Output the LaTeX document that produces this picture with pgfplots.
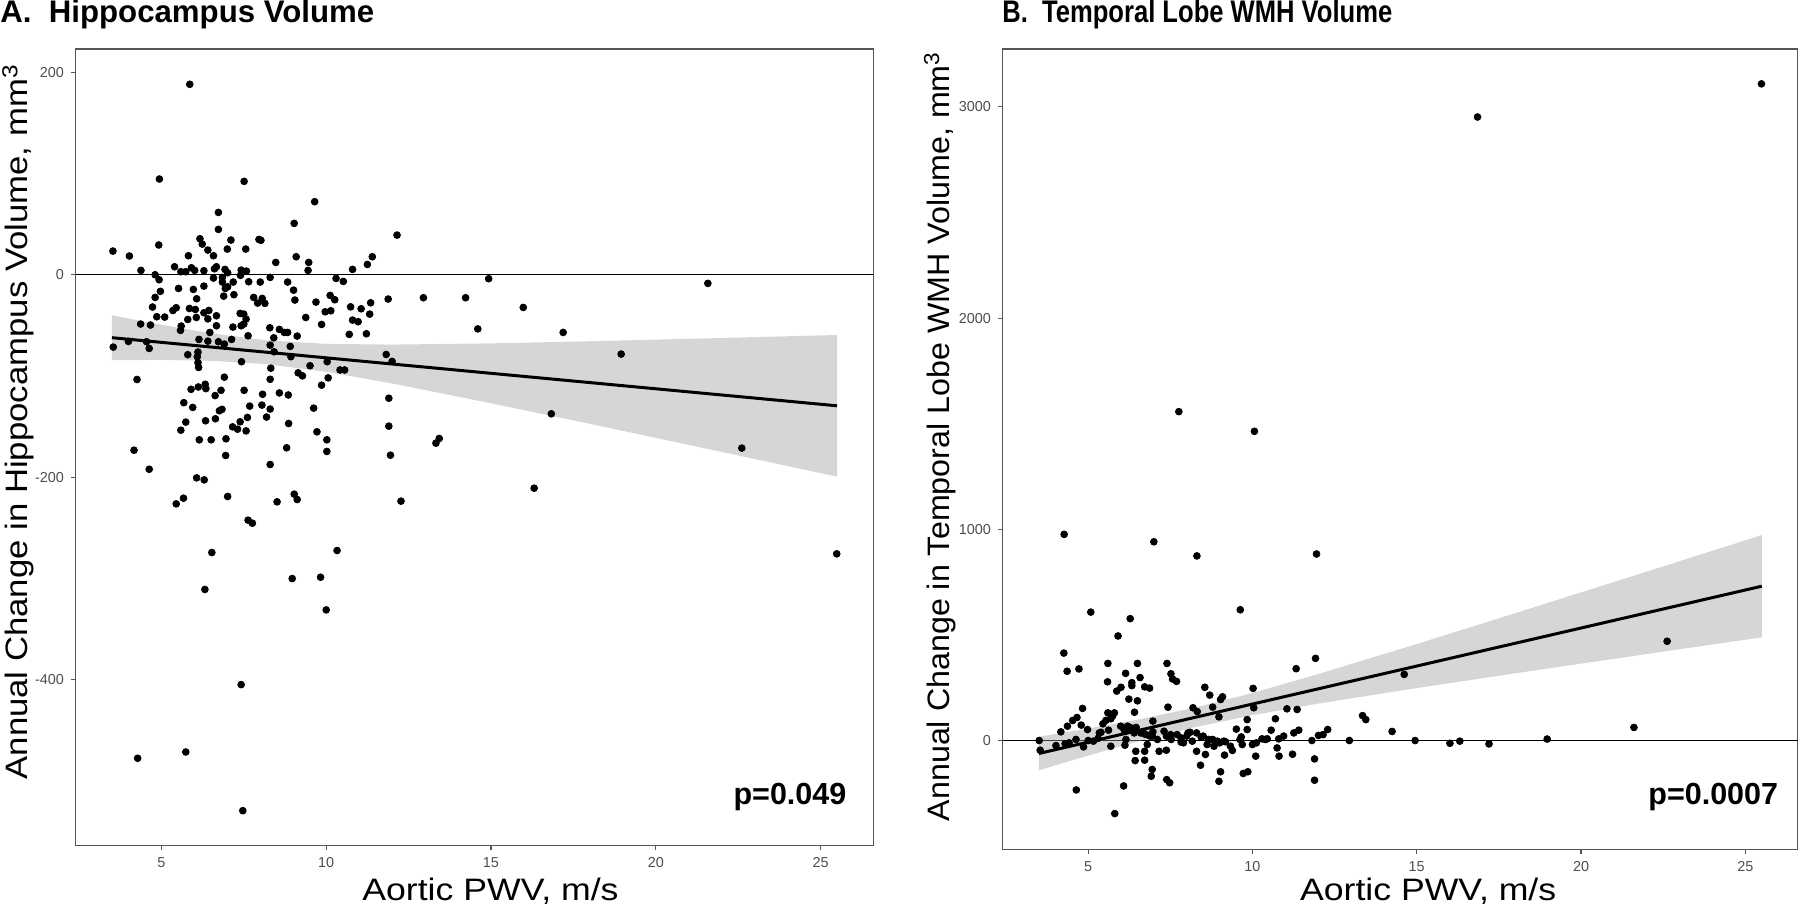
\documentclass[border=0pt]{standalone}
\usepackage{pgfplots}
\pgfplotsset{compat=1.18}
\usepackage{fontspec}
\setmainfont{Liberation Sans}
\definecolor{frame}{HTML}{555555}
\definecolor{ticktext}{HTML}{4D4D4D}
\pgfplotsset{
  panel/.style={
    scale only axis, anchor=south west,
    xmin=2.4, xmax=26.6, xtick={5,10,15,20,25},
    axis line style={draw=frame, line width=0.55pt},
    tick style={draw=frame, line width=0.55pt},
    tick align=outside, major tick length=2.4pt,
    xtick pos=bottom, ytick pos=left,
    ticklabel style={font=\fontsize{7.2}{8}\selectfont, text=ticktext},
    /pgf/number format/assume math mode=true,
    /pgf/number format/1000 sep={},
    scaled y ticks=false,
    xlabel={Aortic PWV, m/s},
    xlabel style={font=\fontsize{15.5}{18}\selectfont, anchor=base, xscale=1.15},
    ylabel style={font=\fontsize{15.5}{18}\selectfont, anchor=center},
    clip=true,
  },
  pts/.style={only marks, mark=*, mark size=1.7pt, black, mark options={draw=none, fill=black}},
  band/.style={draw=none, fill=black!40, fill opacity=0.4},
  fit/.style={black, line width=1.5pt},
  zero/.style={black, line width=0.6pt},
}
\begin{document}
\begin{tikzpicture}
\useasboundingbox (0,0) rectangle (900pt,452.5pt);
\node[anchor=base west, inner sep=0pt, font=\bfseries\fontsize{15.6}{18}\selectfont] at (0pt,441.2pt) {A.\ \ Hippocampus Volume};
\node[anchor=base west, inner sep=0pt, xscale=0.82, font=\bfseries\fontsize{15.6}{18}\selectfont] at (501pt,441.2pt) {B.\ \ Temporal Lobe WMH Volume};

\begin{axis}[panel, at={(37.85pt,29.65pt)}, width=398.8pt, height=398.35pt,
  ymin=-564.2, ymax=223.1, ytick={-400,-200,0,200},
  xlabel style={at={(axis description cs:0.52,0)}, yshift=-27.5pt},
  ylabel={Annual Change in Hippocampus Volume, mm\textsuperscript{3}},
  ylabel style={at={(axis description cs:-0.072,0.532)}, xscale=1.12}]
\addplot[zero] coordinates {(2.4,0) (26.6,0)};
\addplot[pts] table {
x y
5.86 188.2
4.94 94.6
7.51 92.3
9.65 72.2
6.73 61.6
9.03 50.8
6.73 44.8
12.15 39.2
6.17 35.6
6.24 30.3
7.11 34.3
6.41 24.4
6.58 18.8
7.00 25.4
7.96 34.9
8.02 34.0
7.56 25.4
3.53 23.4
4.03 18.5
4.92 29.4
5.82 18.8
8.47 12.2
9.09 17.8
9.47 12.2
11.40 17.8
11.25 10.2
10.80 5.3
9.45 4.3
4.38 4.3
5.40 7.9
5.59 3.0
5.74 3.0
5.91 6.9
6.01 4.3
6.29 4.0
6.61 5.9
6.67 7.9
6.93 5.3
7.01 2.0
7.42 4.6
7.58 3.6
7.40 -0.6
4.81 0
4.93 -4.9
6.58 -3.3
6.85 -2.6
6.85 -7.2
7.18 -7.2
7.65 -6.9
8.00 -7.2
8.30 -2.6
8.83 -7.2
10.30 -3.6
10.52 -6.6
14.93 -3.9
4.97 -16.4
5.52 -13.5
5.97 -14.5
6.29 -11.2
6.94 -13.5
7.01 -11.9
7.20 -19.7
6.89 -21.1
6.07 -23.7
4.81 -22.4
7.80 -22.4
8.06 -23.4
9.01 -15.2
10.12 -20.4
10.26 -24.7
9.05 -25.0
7.92 -28.0
8.14 -28.3
9.69 -27.0
11.88 -24.0
12.95 -22.7
14.23 -22.7
14.60 -53.5
4.73 -31.9
5.35 -35.3
5.45 -32.6
5.85 -33.3
6.03 -34.3
6.44 -35.3
5.80 -44.2
6.06 -42.2
6.29 -37.6
6.41 -43.6
4.86 -41.5
5.10 -41.8
6.67 -40.5
7.39 -38.2
7.50 -38.9
7.57 -43.8
7.50 -48.7
7.42 -50.4
6.67 -50.4
6.47 -57.0
7.17 -51.7
5.60 -50.7
5.58 -55.0
7.63 -60.3
8.29 -52.4
8.58 -54.0
8.73 -57.0
8.83 -57.0
8.41 -62.3
9.12 -60.6
9.38 -42.2
9.86 -49.1
9.97 -36.6
10.14 -35.6
10.74 -31.7
11.06 -33.6
11.35 -27.7
11.32 -38.9
10.80 -44.8
10.97 -46.4
10.70 -58.9
11.22 -58.3
4.37 -48.7
4.67 -49.7
3.54 -71.5
4.00 -65.9
4.55 -66.2
4.63 -72.8
6.14 -63.9
6.41 -65.6
6.73 -66.2
6.91 -68.5
7.13 -63.9
5.80 -79.0
6.11 -76.4
6.09 -81.0
6.11 -86.9
6.13 -91.6
7.43 -85.9
8.30 -69.5
8.42 -76.1
8.91 -70.8
8.93 -81.0
9.51 -89.9
10.03 -85.9
10.42 -94.1
10.56 -94.1
11.82 -78.8
12.00 -85.6
8.32 -92.3
9.15 -96.9
9.28 -99.9
8.30 -103.3
10.06 -101.9
9.86 -109.1
4.26 -103.5
6.91 -101.2
5.90 -113.2
6.12 -110.9
6.33 -108.2
6.35 -112.5
6.81 -114.2
6.63 -119.4
7.51 -114.2
8.07 -118.1
8.58 -116.8
8.85 -118.8
5.68 -126.4
5.95 -131.1
6.76 -134.4
6.84 -133.0
7.68 -129.8
8.05 -128.8
8.30 -132.7
8.19 -140.6
9.62 -131.8
5.74 -145.6
5.59 -153.6
6.34 -144.3
6.64 -142.3
7.39 -145.3
7.16 -150.3
7.31 -152.6
7.61 -141.0
7.57 -154.3
8.86 -147.0
9.72 -155.2
11.90 -122.0
11.90 -149.6
6.15 -163.1
6.51 -163.1
6.96 -162.1
8.80 -171.0
10.02 -163.1
10.02 -174.6
11.95 -178.3
13.33 -166.4
13.43 -161.8
4.17 -173.4
4.63 -192.2
6.95 -178.6
8.30 -187.5
6.07 -200.7
6.30 -202.7
5.45 -226.4
5.67 -220.8
7.01 -219.1
7.63 -242.5
7.76 -245.5
8.51 -224.4
9.03 -216.8
9.12 -222.1
12.27 -223.7
6.53 -274.5
10.33 -272.5
6.32 -311.0
8.97 -300.2
9.83 -298.9
10.00 -331.2
7.42 -405.0
4.28 -477.8
5.74 -471.6
7.47 -529.6
21.58 -8.5
15.98 -32.3
17.19 -57.0
18.95 -78.4
16.83 -137.4
22.61 -171.3
16.31 -210.9
25.49 -275.8
};
\addplot[band] coordinates {(3.5,-40.1) (5,-49.4) (6.5,-57.8) (8.2,-64.8) (10,-68.3) (12,-69.0) (15,-67.8) (18,-65.7) (21,-63.3) (25.5,-59.5)
 (25.5,-199.5) (21,-168.1) (18,-147.3) (15,-127.0) (12,-107.4) (10,-95.9) (8.2,-88.4) (6.5,-85.0) (5,-84.2) (3.5,-84.3)};
\addplot[fit] coordinates {(3.5,-62.2) (25.5,-129.5)};
\node[anchor=base east, inner sep=0pt, font=\bfseries\fontsize{15.25}{18}\selectfont] at (rel axis cs:0.9667,0.0523) {p=0.049};
\end{axis}

\begin{axis}[panel, at={(501.35pt,27.85pt)}, width=397.6pt, height=400.15pt,
  ymin=-515, ymax=3274, ytick={0,1000,2000,3000},
  xlabel style={at={(axis description cs:0.535,0)}, yshift=-25.7pt},
  ylabel={Annual Change in Temporal Lobe WMH Volume, mm\textsuperscript{3}},
  ylabel style={at={(axis description cs:-0.079,0.516)}, xscale=1.04}]
\addplot[zero] coordinates {(2.4,0) (26.6,0)};
\addplot[pts] table {
x y
7.76 1557
10.06 1464
4.27 976
7.00 941
8.31 874
11.95 883
5.08 608
6.28 577
9.63 619
5.91 495
4.26 414
4.36 328
4.72 339
5.60 365
6.50 365
7.40 365
6.14 318
5.59 278
6.33 274
6.58 298
6.33 260
6.00 252
5.87 234
6.72 254
6.87 248
7.52 316
7.57 291
7.69 280
8.55 252
8.70 215
9.09 207
10.02 247
11.33 340
11.92 389
14.62 313
22.62 470
16.85 2952
25.49 3109
6.24 196
6.50 188
6.41 134
9.03 194
7.43 158
8.19 155
8.32 137
8.79 158
8.98 112
10.04 155
11.05 150
11.36 147
4.83 152
4.66 109
4.53 95
4.37 68
4.17 41
4.79 73
4.98 52
5.45 79
5.54 95
5.69 103
5.80 131
5.60 131
5.74 115
5.34 36
5.62 49
5.99 68
6.20 68
6.46 62
6.12 44
6.60 36
6.76 28
6.97 92
6.97 41
7.31 44
7.51 28
7.82 13
8.00 21
8.10 39
8.30 36
8.50 21
8.67 5
8.79 5
8.93 -3
9.18 -6
9.33 -27
9.51 54
9.66 17
9.84 52
9.84 99
10.00 -19
10.12 -11
10.29 8
10.45 8
10.57 49
10.70 103
10.80 8
10.95 21
11.26 36
11.41 49
11.81 0
12.01 24
12.15 28
12.29 52
12.95 0
13.35 118
13.45 99
14.25 43
14.95 0
16.01 -13
16.31 -3
17.20 -16
18.97 7
21.61 62
3.51 0
3.54 -46
4.02 -24
4.42 -11
4.63 5
4.86 -30
5.16 -3
5.69 -27
6.12 -22
6.15 5
6.45 -51
6.43 -95
6.72 -93
6.72 -51
6.80 -19
6.95 21
7.16 -51
7.38 -46
6.95 -137
6.92 -169
7.39 -185
7.48 -200
7.90 -11
8.30 -51
8.42 -117
8.57 -66
8.83 -27
8.98 -193
9.03 -148
9.15 -69
9.39 -47
9.72 -156
9.86 -148
10.10 -74
10.75 -35
10.81 -74
11.22 -65
11.89 -87
11.89 -188
4.64 -234
6.08 -215
5.81 -346
5.39 39
6.09 52
6.30 60
6.40 36
6.70 33
6.88 21
7.11 5
7.38 21
7.53 5
7.71 28
7.83 -8
8.04 36
8.17 -3
8.44 16
8.62 -19
9.00 -11
9.13 -3
9.62 5
9.69 -19
10.39 5
5.00 0
5.30 10
4.30 -15
};
\addplot[band] coordinates {(3.5,18.1) (5,56.5) (6.5,98.5) (8.2,154.1) (10,225.1) (12,314.4) (15,456.9) (18,603.0) (21,750.4) (25.5,972.7)
 (25.5,488.5) (21,386.8) (18,318.2) (15,248.3) (12,174.8) (10,120.1) (8.2,61.5) (6.5,-5.3) (5,-71.3) (3.5,-140.9)};
\addplot[fit] coordinates {(3.5,-61.4) (25.5,730.6)};
\node[anchor=base east, inner sep=0pt, font=\bfseries\fontsize{15.25}{18}\selectfont] at (rel axis cs:0.9756,0.0554) {p=0.0007};
\end{axis}
\end{tikzpicture}
\end{document}
